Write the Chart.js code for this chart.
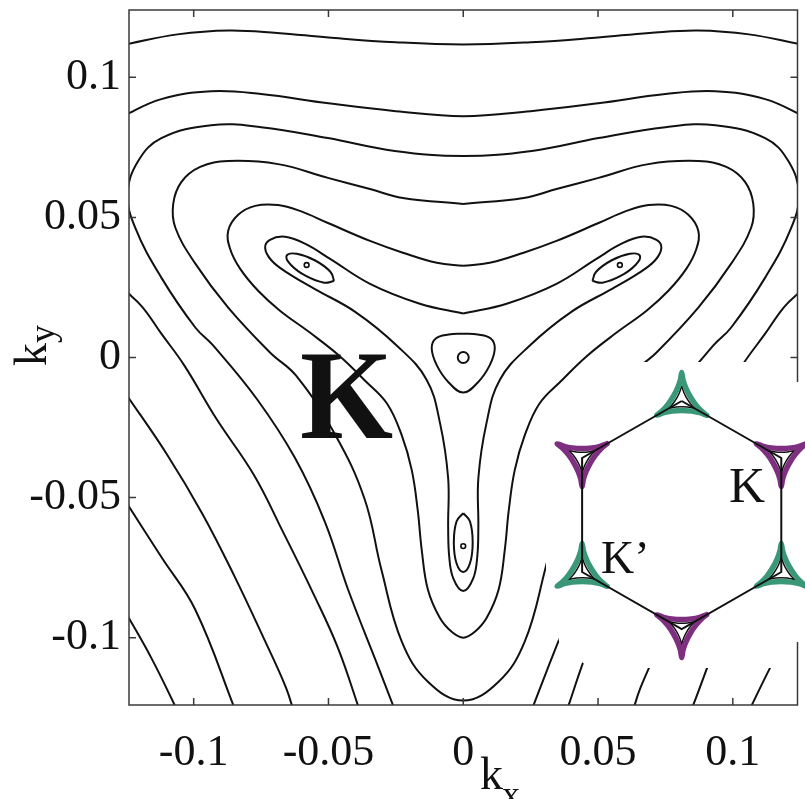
<!DOCTYPE html>
<html>
<head>
<meta charset="utf-8">
<script src="https://cdn.jsdelivr.net/npm/chart.js@4.4.0/dist/chart.umd.min.js"></script>
<style>
  html, body { margin: 0; padding: 0; background: #fff; }
  #wrap { position: relative; width: 805px; height: 799px; overflow: hidden; }
  #main { position: absolute; left: 0; top: 0; }
  #inset { position: absolute; left: 540px; top: 355px; }
</style>
</head>
<body>
<div id="wrap">
  <canvas id="main" width="805" height="799"></canvas>
  <canvas id="inset" width="265" height="320"></canvas>
</div>
<script>
// axis ticks
const xTicks = [-0.1, -0.05, 0, 0.05, 0.1];
const xTickLabels = ['-0.1', '-0.05', '0', '0.05', '0.1'];
const yTicks = [-0.1, -0.05, 0, 0.05, 0.1];
const yTickLabels = ['-0.1', '-0.05', '0', '0.05', '0.1'];

// iso-energy lines near K, [kx, ky]
const topLine = [[-0.125,0.1118],[-0.106,0.1153],[-0.087,0.1167],[-0.069,0.1158],[-0.05,0.1142],[-0.025,0.1125],[0,0.1117],
  [0.025,0.1125],[0.05,0.1142],[0.069,0.1158],[0.087,0.1167],[0.106,0.1153],[0.125,0.1118]];

const secondLine = [[-0.127,0.0858],[-0.112,0.0922],[-0.0935,0.095],[-0.075,0.094],[-0.05,0.0907],[-0.025,0.0879],[0,0.0861],
  [0.025,0.0879],[0.05,0.0907],[0.075,0.094],[0.0935,0.095],[0.112,0.0922],[0.127,0.0858]];

const thirdLine = [[-0.0243,-0.1285],[-0.0313,-0.111],[-0.0428,-0.0826],[-0.0513,-0.0587],[-0.0624,-0.0359],[-0.0765,-0.0149],
  [-0.0928,0.0043],[-0.0994,0.0107],[-0.112,0.0285],[-0.1217,0.0463],[-0.1245,0.0584],[-0.1206,0.0701],[-0.112,0.0783],
  [-0.0935,0.0829],[-0.075,0.0822],[-0.0502,0.0783],[-0.0254,0.0737],[0,0.0719],
  [0.0254,0.0737],[0.0502,0.0783],[0.075,0.0822],[0.0935,0.0829],[0.112,0.0783],[0.1206,0.0701],[0.1245,0.0584],
  [0.1217,0.0463],[0.112,0.0285],[0.0994,0.0107],[0.0928,0.0043],[0.0765,-0.0149],[0.0624,-0.0359],[0.0513,-0.0587],
  [0.0428,-0.0826],[0.0313,-0.111],[0.0243,-0.1285]];

const loopD = [[0,0.0548],[-0.0224,0.0569],[-0.0346,0.0601],[-0.0502,0.0641],[-0.0687,0.069],[-0.0872,0.0701],[-0.0976,0.068],
  [-0.1046,0.0626],[-0.1076,0.0548],[-0.1068,0.0463],[-0.0994,0.0335],[-0.0872,0.0178],[-0.0717,0.0018],[-0.062,-0.0065],
  [-0.0476,-0.0274],[-0.0366,-0.0505],[-0.0304,-0.0756],[-0.0228,-0.1014],[-0.0131,-0.1157],[0,-0.1224],
  [0.0131,-0.1157],[0.0228,-0.1014],[0.0304,-0.0756],[0.0366,-0.0505],[0.0476,-0.0274],[0.062,-0.0065],[0.0717,0.0018],
  [0.0872,0.0178],[0.0994,0.0335],[0.1068,0.0463],[0.1076,0.0548],[0.1046,0.0626],[0.0976,0.068],[0.0872,0.0701],
  [0.0687,0.069],[0.0502,0.0641],[0.0346,0.0601],[0.0224,0.0569],[0,0.0548]];

const loopE = [[0,0.0327],[-0.0098,0.0338],[-0.0224,0.0374],[-0.0346,0.0416],[-0.0502,0.048],[-0.0606,0.0523],[-0.0687,0.0544],
  [-0.0772,0.0541],[-0.0835,0.0509],[-0.0872,0.0452],[-0.0865,0.0388],[-0.0828,0.0317],[-0.0761,0.0238],[-0.068,0.0167],
  [-0.0569,0.0089],[-0.0457,0.0004],[-0.0365,-0.0082],[-0.0283,-0.0164],[-0.0228,-0.0278],[-0.0191,-0.0402],[-0.0169,-0.0544],
  [-0.0154,-0.0687],[-0.0131,-0.0829],[-0.0087,-0.0929],[-0.0043,-0.0979],[0,-0.1],
  [0.0043,-0.0979],[0.0087,-0.0929],[0.0131,-0.0829],[0.0154,-0.0687],[0.0169,-0.0544],[0.0191,-0.0402],[0.0228,-0.0278],
  [0.0283,-0.0164],[0.0365,-0.0082],[0.0457,0.0004],[0.0569,0.0089],[0.068,0.0167],[0.0761,0.0238],[0.0828,0.0317],
  [0.0865,0.0388],[0.0872,0.0452],[0.0835,0.0509],[0.0772,0.0541],[0.0687,0.0544],[0.0606,0.0523],[0.0502,0.048],
  [0.0346,0.0416],[0.0224,0.0374],[0.0098,0.0338],[0,0.0327]];

const loopG = [[0,0.0157],[-0.0161,0.0192],[-0.0346,0.0263],[-0.0494,0.0352],[-0.0587,0.0406],[-0.0661,0.0431],[-0.0717,0.042],
  [-0.0735,0.0391],[-0.0712,0.0347],[-0.0652,0.0302],[-0.0552,0.0245],[-0.0401,0.0163],[-0.0247,0.0043],[-0.0136,-0.0079],
  [-0.0086,-0.0235],[-0.0056,-0.0431],[-0.0056,-0.0604],[-0.0052,-0.0711],[-0.0037,-0.0788],[0,-0.0833],
  [0.0037,-0.0788],[0.0052,-0.0711],[0.0056,-0.0604],[0.0056,-0.0431],[0.0086,-0.0235],[0.0136,-0.0079],[0.0247,0.0043],
  [0.0401,0.0163],[0.0552,0.0245],[0.0652,0.0302],[0.0712,0.0347],[0.0735,0.0391],[0.0717,0.042],[0.0661,0.0431],
  [0.0587,0.0406],[0.0494,0.0352],[0.0346,0.0263],[0.0161,0.0192],[0,0.0157]];

// small pockets
const centerPocket = [[0,0.0085],[0.0054,0.0082],[0.0102,0.0068],[0.0117,0.0032],[0.0098,-0.0028],[0.0054,-0.0089],[0,-0.0125],
  [-0.0054,-0.0089],[-0.0098,-0.0028],[-0.0117,0.0032],[-0.0102,0.0068],[-0.0054,0.0082],[0,0.0085]];
const leftPocket = [[-0.0479,0.0273],[-0.0493,0.0306],[-0.0551,0.0347],[-0.0618,0.037],[-0.0655,0.0364],[-0.064,0.0331],
  [-0.0582,0.029],[-0.0516,0.0267],[-0.0479,0.0273]];
const rightPocket = [[0.0479,0.0273],[0.0493,0.0306],[0.0551,0.0347],[0.0618,0.037],[0.0655,0.0364],[0.064,0.0331],
  [0.0582,0.029],[0.0516,0.0267],[0.0479,0.0273]];
const bottomPocket = [[0,-0.0555],[0.0025,-0.0585],[0.0035,-0.066],[0.0025,-0.0734],[0,-0.0765],[-0.0025,-0.0734],
  [-0.0035,-0.066],[-0.0025,-0.0585],[0,-0.0555]];
const diracPoints = [[-0.0581,0.033],[0.0581,0.033],[0,-0.0673]];
const centerRing = [[0,0]];

// lines entering the lower corners
const cornerLeft1 = [[-0.1255,-0.0905],[-0.1154,-0.1078],[-0.1058,-0.1265]];
const cornerLeft2 = [[-0.1255,-0.051],[-0.112,-0.0712],[-0.0994,-0.09],[-0.0843,-0.1265]];
const cornerLeft3 = [[-0.1255,-0.0125],[-0.1099,-0.0346],[-0.0967,-0.0559],[-0.0849,-0.078],[-0.0739,-0.1004],[-0.0658,-0.1177],[-0.0625,-0.1275]];
const cornerLeft4 = [[-0.1255,0.024],[-0.1191,0.0181],[-0.112,0.0085],[-0.1035,-0.0028],[-0.0917,-0.0217],[-0.0776,-0.042],
  [-0.0672,-0.0616],[-0.0554,-0.0847],[-0.0465,-0.1036],[-0.0383,-0.1263]];
const cornerRight1 = [[0.1255,-0.0905],[0.1154,-0.1078],[0.1058,-0.1265]];
const cornerRight2 = [[0.1255,-0.051],[0.112,-0.0712],[0.0994,-0.09],[0.0843,-0.1265]];
const cornerRight3 = [[0.1255,-0.0125],[0.1099,-0.0346],[0.0967,-0.0559],[0.0849,-0.078],[0.0739,-0.1004],[0.0658,-0.1177],[0.0625,-0.1275]];
const cornerRight4 = [[0.1255,0.024],[0.1191,0.0181],[0.112,0.0085],[0.1035,-0.0028],[0.0917,-0.0217],[0.0776,-0.042],
  [0.0672,-0.0616],[0.0554,-0.0847],[0.0465,-0.1036],[0.0383,-0.1263]];

// Brillouin zone inset (units of the zone-corner distance)
const zoneHexagon = [[0,1],[0.866,0.5],[0.866,-0.5],[0,-1],[-0.866,-0.5],[-0.866,0.5],[0,1]];
const kCorners = [[-0.866,0.5],[0.866,0.5],[0,-1]];
const kPrimeCorners = [[0,1],[-0.866,-0.5],[0.866,-0.5]];
const kPocket = [[0.2165,0.125],[0.1555,0.1027],[0.0848,0.0888],[0,0.0833],[-0.0848,0.0888],[-0.1555,0.1027],[-0.2165,0.125],
  [-0.1667,0.0833],[-0.1193,0.029],[-0.0721,-0.0417],[-0.0345,-0.1178],[-0.0111,-0.1861],[0,-0.25],[0.0111,-0.1861],
  [0.0345,-0.1178],[0.0721,-0.0417],[0.1193,0.029],[0.1667,0.0833],[0.2165,0.125]];
const kPrimePocket = [[0.2165,-0.125],[0.1555,-0.1027],[0.0848,-0.0888],[0,-0.0833],[-0.0848,-0.0888],[-0.1555,-0.1027],[-0.2165,-0.125],
  [-0.1667,-0.0833],[-0.1193,-0.029],[-0.0721,0.0417],[-0.0345,0.1178],[-0.0111,0.1861],[0,0.25],[0.0111,0.1861],
  [0.0345,0.1178],[0.0721,0.0417],[0.1193,-0.029],[0.1667,-0.0833],[0.2165,-0.125]];
const kPocketSmall = [[0.1299,0.075],[0.0933,0.0616],[0.0509,0.0533],[0,0.05],[-0.0509,0.0533],[-0.0933,0.0616],[-0.1299,0.075],
  [-0.1,0.05],[-0.0716,0.0174],[-0.0433,-0.025],[-0.0207,-0.0707],[-0.0067,-0.1117],[0,-0.15],[0.0067,-0.1117],
  [0.0207,-0.0707],[0.0433,-0.025],[0.0716,0.0174],[0.1,0.05],[0.1299,0.075]];
const kPrimePocketSmall = [[0.1299,-0.075],[0.0933,-0.0616],[0.0509,-0.0533],[0,-0.05],[-0.0509,-0.0533],[-0.0933,-0.0616],[-0.1299,-0.075],
  [-0.1,-0.05],[-0.0716,-0.0174],[-0.0433,0.025],[-0.0207,0.0707],[-0.0067,0.1117],[0,0.15],[0.0067,0.1117],
  [0.0207,0.0707],[0.0433,0.025],[0.0716,-0.0174],[0.1,-0.05],[0.1299,-0.075]];

const INK = '#111';
const PURPLE = '#7f2f80';
const GREEN = '#3a9878';
const SERIF = '"Liberation Serif", "Times New Roman", serif';

Chart.defaults.font.family = SERIF;

const toPts = arr => arr.map(([x, y]) => ({ x, y }));

function contour(arr) {
    return {
        data: toPts(arr),
        showLine: true,
        borderColor: INK,
        borderWidth: 2,
        pointRadius: 0,
        tension: 0.4,
        clip: 0
    };
}

const lines = [
    topLine, secondLine, thirdLine, loopD, loopE, loopG,
    centerPocket, leftPocket, rightPocket, bottomPocket,
    cornerLeft1, cornerLeft2, cornerLeft3, cornerLeft4,
    cornerRight1, cornerRight2, cornerRight3, cornerRight4
];

const mainDatasets = lines.map(contour);
mainDatasets.push({
    data: toPts(diracPoints),
    showLine: false,
    pointRadius: 2.4,
    pointBorderWidth: 1.6,
    pointBorderColor: INK,
    pointBackgroundColor: '#fff'
});
mainDatasets.push({
    data: toPts(centerRing),
    showLine: false,
    pointRadius: 5.5,
    pointBorderWidth: 2,
    pointBorderColor: INK,
    pointBackgroundColor: '#fff'
});

// frame with inward ticks, the big valley letter and axis titles
const framePlugin = {
    id: 'framePlugin',
    afterDatasetsDraw(chart) {
        const { ctx, chartArea: a, scales } = chart;
        const x = scales.x, y = scales.y;
        ctx.save();

        // valley label, slightly narrowed
        ctx.save();
        ctx.fillStyle = INK;
        ctx.font = 'bold 126px ' + SERIF;
        ctx.textAlign = 'left';
        ctx.textBaseline = 'alphabetic';
        ctx.translate(x.getPixelForValue(-0.0606), y.getPixelForValue(-0.0288));
        ctx.scale(0.95, 1);
        ctx.fillText('K', 0, 0);
        ctx.restore();

        ctx.strokeStyle = '#3a3a3a';
        ctx.lineWidth = 1.5;
        ctx.strokeRect(a.left, a.top, a.right - a.left, a.bottom - a.top);

        const len = 7;
        ctx.beginPath();
        xTicks.forEach(v => {
            const px = x.getPixelForValue(v);
            ctx.moveTo(px, a.bottom); ctx.lineTo(px, a.bottom - len);
            ctx.moveTo(px, a.top); ctx.lineTo(px, a.top + len);
        });
        yTicks.forEach(v => {
            const py = y.getPixelForValue(v);
            ctx.moveTo(a.left, py); ctx.lineTo(a.left + len, py);
            ctx.moveTo(a.right, py); ctx.lineTo(a.right - len, py);
        });
        ctx.stroke();
        ctx.restore();
    },
    afterDraw(chart) {
        const { ctx } = chart;
        ctx.save();
        ctx.fillStyle = INK;
        ctx.textAlign = 'left';
        ctx.textBaseline = 'alphabetic';

        // k_x
        ctx.font = '46px ' + SERIF;
        ctx.fillText('k', 480, 789);
        ctx.font = '36px ' + SERIF;
        ctx.fillText('x', 502, 806);

        // k_y, rotated
        ctx.translate(46, 366);
        ctx.rotate(-Math.PI / 2);
        ctx.font = '46px ' + SERIF;
        ctx.fillText('k', 0, 0);
        ctx.font = '36px ' + SERIF;
        ctx.fillText('y', 23, 8);
        ctx.restore();
    }
};

new Chart(document.getElementById('main').getContext('2d'), {
    type: 'scatter',
    data: { datasets: mainDatasets },
    options: {
        responsive: false,
        animation: false,
        events: [],
        layout: { padding: { top: 10, right: 7, left: 0, bottom: 0 } },
        plugins: { legend: { display: false }, tooltip: { enabled: false } },
        scales: {
            x: {
                type: 'linear',
                min: -0.124,
                max: 0.124,
                grid: { display: false, drawTicks: false, tickLength: 0 },
                border: { display: false },
                afterBuildTicks: s => { s.ticks = xTicks.map(v => ({ value: v })); },
                afterFit: s => { s.height = 94; s.paddingLeft = 0; s.paddingRight = 0; },
                ticks: {
                    autoSkip: false,
                    maxRotation: 0,
                    padding: 22,
                    color: INK,
                    font: { family: SERIF, size: 44 },
                    callback: (v, i) => xTickLabels[i]
                }
            },
            y: {
                type: 'linear',
                min: -0.124,
                max: 0.124,
                grid: { display: false, drawTicks: false, tickLength: 0 },
                border: { display: false },
                afterBuildTicks: s => { s.ticks = yTicks.map(v => ({ value: v })); },
                afterFit: s => { s.width = 129; s.paddingTop = 0; s.paddingBottom = 0; },
                ticks: {
                    autoSkip: false,
                    padding: 8,
                    color: INK,
                    font: { family: SERIF, size: 44 },
                    callback: (v, i) => yTickLabels[i]
                }
            }
        }
    },
    plugins: [framePlugin]
});

// ---- inset: hexagonal zone with trigonal pockets at the corners ----
function pocketAt(corner, shape, color, width) {
    return {
        data: shape.map(([dx, dy]) => ({ x: corner[0] + dx, y: corner[1] + dy })),
        showLine: true,
        borderColor: color,
        borderWidth: width,
        pointRadius: 0,
        tension: 0.3,
        borderJoinStyle: 'round',
        borderCapStyle: 'round'
    };
}

const insetDatasets = [{
    data: toPts(zoneHexagon),
    showLine: true,
    borderColor: INK,
    borderWidth: 2,
    pointRadius: 0,
    tension: 0
}];
kCorners.forEach(c => insetDatasets.push(pocketAt(c, kPocket, PURPLE, 5.5)));
kPrimeCorners.forEach(c => insetDatasets.push(pocketAt(c, kPrimePocket, GREEN, 5.5)));
kCorners.forEach(c => insetDatasets.push(pocketAt(c, kPocketSmall, INK, 1.5)));
kPrimeCorners.forEach(c => insetDatasets.push(pocketAt(c, kPrimePocketSmall, INK, 1.5)));

// white backing of the inset, canvas pixels
const insetBacking = [[6,77],[62,7],[250,7],[250,27],[265,27],[265,287],[250,287],[250,313],[50,313],[20,291],[6,221]];

const insetPlugin = {
    id: 'insetPlugin',
    beforeDraw(chart) {
        const { ctx } = chart;
        ctx.save();
        ctx.fillStyle = '#fff';
        ctx.beginPath();
        insetBacking.forEach(([px, py], i) => i ? ctx.lineTo(px, py) : ctx.moveTo(px, py));
        ctx.closePath();
        ctx.fill();
        ctx.restore();
    },
    afterDraw(chart) {
        const { ctx } = chart;
        ctx.save();
        ctx.fillStyle = INK;
        ctx.textAlign = 'left';
        ctx.textBaseline = 'alphabetic';
        ctx.font = '50px ' + SERIF;
        ctx.fillText('K', 189, 147);
        ctx.font = '46px ' + SERIF;
        ctx.fillText('K\u2019', 61, 218);
        ctx.restore();
    }
};

new Chart(document.getElementById('inset').getContext('2d'), {
    type: 'scatter',
    data: { datasets: insetDatasets },
    options: {
        responsive: false,
        animation: false,
        events: [],
        layout: { padding: 0 },
        plugins: { legend: { display: false }, tooltip: { enabled: false } },
        scales: {
            x: { type: 'linear', display: false, min: -1.2322, max: 1.0722 },
            y: { type: 'linear', display: false, min: -1.4035, max: 1.4035 }
        }
    },
    plugins: [insetPlugin]
});
</script>
</body>
</html>
